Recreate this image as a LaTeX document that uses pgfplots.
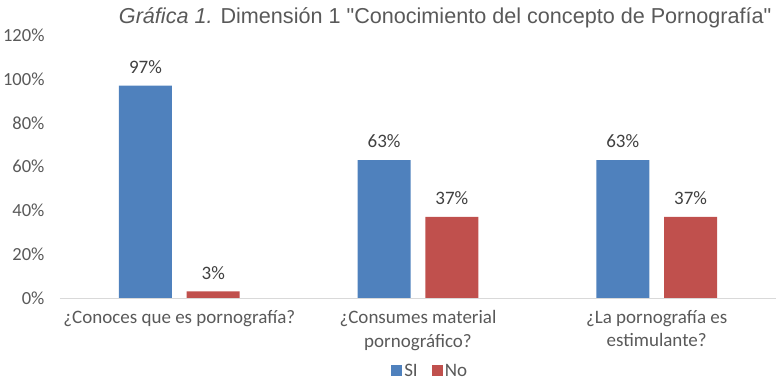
\documentclass[border=0pt]{standalone}
\usepackage{pgfplots}
\pgfplotsset{compat=1.18}
\usepackage{fontspec}
\setmainfont{Carlito}
\newfontfamily\arialfont{Liberation Sans}
\definecolor{sblue}{HTML}{4F81BD}
\definecolor{sred}{HTML}{C0504D}
\definecolor{tgray}{HTML}{595959}
\definecolor{lgray}{HTML}{404040}
\definecolor{axgray}{HTML}{D9D9D9}
\begin{document}
\begin{tikzpicture}
\useasboundingbox (-60pt,-84pt) rectangle (719pt,298pt);
\begin{axis}[
  scale only axis, width=716pt, height=262.8pt,
  xmin=-0.5, xmax=2.5, ymin=0, ymax=120,
  ybar, bar width=0.222,
  axis lines*=left,
  axis line style={-},
  x axis line style={draw=axgray, line width=0.8pt},
  y axis line style={draw=none},
  major tick length=0pt,
  xtick={0,1,2},
  xticklabels={{¿Conoces que es pornografía?},{¿Consumes material\\pornográfico?},{¿La pornografía es\\estimulante?}},
  xticklabel style={align=center, font=\fontsize{19}{23.3}\selectfont, text=tgray, yshift=-9pt},
  ytick={0,20,...,120},
  yticklabel={\pgfmathprintnumber{\tick}\%},
  yticklabel style={font=\fontsize{18.5}{22}\selectfont, text=tgray, xshift=-12pt},
  /pgf/number format/assume math mode=true,
  nodes near coords={\pgfmathprintnumber{\pgfplotspointmeta}\%},
  every node near coord/.append style={font=\fontsize{19}{22}\selectfont, text=lgray, yshift=8.5pt},
  title={\arialfont\textit{Gráfica 1.} Dimensión 1 "Conocimiento del concepto de Pornografía"},
  title style={at={(0.538,1)}, anchor=south, font=\fontsize{21.6}{26}\selectfont, text=tgray, yshift=-2pt},
  legend style={at={(0.517,0)}, anchor=center, yshift=-73pt, draw=none, legend columns=2,
    font=\fontsize{19}{22}\selectfont, text=tgray, inner sep=0pt,
    /tikz/every even column/.append style={column sep=12pt}},
  legend image code/.code={\fill[#1] (0pt,-5.5pt) rectangle (11pt,5.5pt);},
]
\addplot[fill=sblue, draw=none, bar shift=-0.142] coordinates {(0,97) (1,63) (2,63)};
\addplot[fill=sred, draw=none, bar shift=0.142] coordinates {(0,3) (1,37) (2,37)};
\legend{SI, No}
\end{axis}
\end{tikzpicture}
\end{document}
